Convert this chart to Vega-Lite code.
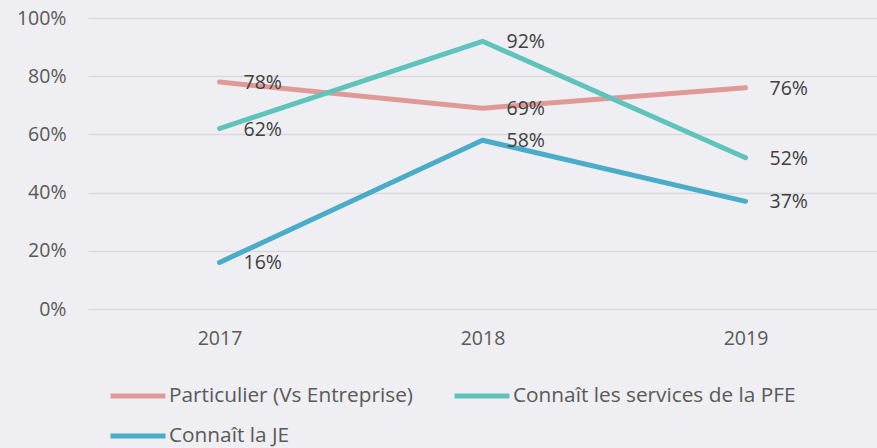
{
  "$schema": "https://vega.github.io/schema/vega-lite/v6.json",
  "autosize": {"type": "none"},
  "padding": {"left": 88, "top": 18, "right": 0, "bottom": 139},
  "width": 789,
  "height": 291,
  "background": "#efeef3",
  "config": {
    "view": {"stroke": null},
    "font": "Open Sans",
    "axis": {"labelFont": "Open Sans", "labelColor": "#595959", "labelFontSize": 19.5}
  },
  "data": {
    "values": [
      {"year": "2017", "series": "Particulier (Vs Entreprise)", "value": 0.78},
      {"year": "2018", "series": "Particulier (Vs Entreprise)", "value": 0.69},
      {"year": "2019", "series": "Particulier (Vs Entreprise)", "value": 0.76},
      {"year": "2017", "series": "Connaît les services de la PFE", "value": 0.62},
      {"year": "2018", "series": "Connaît les services de la PFE", "value": 0.92},
      {"year": "2019", "series": "Connaît les services de la PFE", "value": 0.52},
      {"year": "2017", "series": "Connaît la JE", "value": 0.16},
      {"year": "2018", "series": "Connaît la JE", "value": 0.58},
      {"year": "2019", "series": "Connaît la JE", "value": 0.37}
    ]
  },
  "encoding": {
    "x": {
      "field": "year", "type": "ordinal", "title": null,
      "scale": {"type": "point", "padding": 0.5},
      "axis": {"labelAngle": 0, "ticks": false, "domain": false, "grid": false, "labelPadding": 20}
    },
    "y": {
      "field": "value", "type": "quantitative", "title": null,
      "scale": {"domain": [0, 1]},
      "axis": {"format": ".0%", "values": [0, 0.2, 0.4, 0.6, 0.8, 1], "ticks": false, "domain": false, "gridColor": "#d9d9d9", "gridWidth": 1.5, "labelPadding": 22}
    }
  },
  "layer": [
    {
      "mark": {"type": "line", "strokeWidth": 5, "strokeCap": "round", "strokeJoin": "round"},
      "encoding": {
        "color": {
          "field": "series", "type": "nominal",
          "sort": ["Particulier (Vs Entreprise)", "Connaît les services de la PFE", "Connaît la JE"],
          "scale": {"domain": ["Particulier (Vs Entreprise)", "Connaît les services de la PFE", "Connaît la JE"], "range": ["#df9a98", "#60c3bb", "#4aacc6"]},
          "legend": {
            "title": null, "orient": "none", "legendX": 20, "legendY": 348,
            "direction": "horizontal", "columns": 2, "columnPadding": 31, "rowPadding": -8,
            "symbolType": "stroke", "symbolSize": 3025, "symbolStrokeWidth": 5,
            "labelFont": "Open Sans", "labelFontSize": 20.8, "labelColor": "#595959", "labelOffset": 1, "labelLimit": 400
          }
        }
      }
    },
    {
      "mark": {"type": "text", "align": "left", "baseline": "middle", "dx": 24, "dy": 1, "fontSize": 19.5, "color": "#404040", "font": "Open Sans"},
      "encoding": {
        "text": {"field": "value", "type": "quantitative", "format": ".0%"}
      }
    }
  ]
}
